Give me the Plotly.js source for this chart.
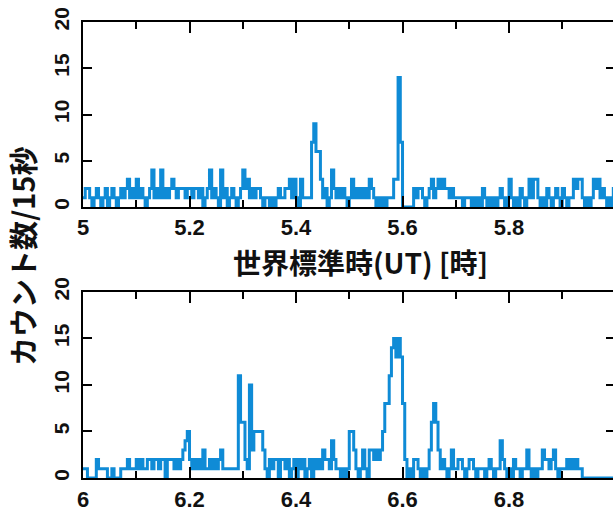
<!DOCTYPE html>
<html>
<head>
<meta charset="utf-8">
<script src="https://cdn.plot.ly/plotly-3.0.1.min.js"></script>
<style>
html, body { margin: 0; padding: 0; overflow: hidden; background: #fff; }
#chart { width: 640px; height: 514px; }
</style>
</head>
<body>
<div id="chart"></div>
<script>
// Counts per 15-second bin (1/240 hour)
const topStartHour = 5.0;
const bottomStartHour = 6.0;
const binHours = 1 / 240;

const topCounts = [
  1,2,2,1,0,1,2,1,0,1,2,0,1,2,1,0,1,2,1,2,
  3,1,2,1,3,1,2,1,0,1,2,4,1,2,1,4,1,2,1,2,
  3,2,1,2,2,2,1,2,2,1,2,2,1,2,0,1,2,4,1,2,
  1,0,4,1,2,0,1,2,1,0,1,2,4,2,3,1,2,1,2,2,
  1,0,1,1,0,1,0,1,2,1,1,2,2,3,1,3,1,0,3,1,
  1,1,1,7,9,6,6,3,1,2,0,1,4,2,1,2,1,2,1,0,
  1,3,1,2,1,2,1,2,1,3,2,1,0,1,0,1,0,1,1,1,
  3,3,14,7,0,0,0,0,0,2,1,2,2,1,0,1,2,3,1,2,
  3,2,3,2,2,1,2,1,1,1,1,0,1,1,1,0,1,0,1,0,
  2,1,0,1,0,1,0,1,2,1,0,1,3,1,0,1,0,2,1,0,
  1,3,1,3,3,1,0,1,0,2,1,0,1,2,1,0,2,1,0,1,
  1,3,2,3,3,1,0,1,0,1,3,2,3,1,2,1,0,1,0,2
];

const bottomCounts = [
  1,1,0,0,0,0,2,1,1,1,1,0,0,1,0,0,0,1,1,1,
  2,1,1,1,2,1,2,1,1,2,2,1,2,2,1,2,2,0,2,2,
  2,1,2,1,2,3,4,5,2,1,2,1,2,1,3,1,1,2,1,2,
  1,2,3,1,1,1,1,1,1,1,11,6,6,2,1,10,3,5,5,5,
  5,3,1,0,2,1,2,2,0,2,2,1,2,0,1,2,0,2,1,2,
  0,1,2,0,2,1,2,1,3,2,2,1,4,2,1,1,0,1,0,1,
  5,5,3,1,0,1,3,1,0,3,3,2,3,2,3,5,8,8,11,14,
  15,13,15,13,8,2,0,1,0,2,2,1,0,1,0,1,3,6,8,6,
  3,1,2,1,0,1,3,1,1,2,2,1,0,1,2,2,1,0,1,1,
  1,0,1,2,1,0,1,1,4,2,1,0,1,0,2,1,1,0,1,1,
  3,1,0,1,0,1,1,3,2,2,1,2,3,1,0,1,1,1,2,1,
  2,1,2,1,1,0,0,0,0,0,0,0,0,0,0,0,0,0,0,0
];

const xTitle = "世界標準時(UT) [時]";
const yTitle = "カウント数/15秒";

function stepSeries(start, counts) {
  const x = counts.map((_, i) => start + i * binHours);
  const y = counts.slice();
  x.push(start + counts.length * binHours);
  y.push(counts[counts.length - 1]);
  return { x, y };
}

const lineColor = "#0f8bd6";
const s1 = stepSeries(topStartHour, topCounts);
const s2 = stepSeries(bottomStartHour, bottomCounts);

const traces = [
  { x: s1.x, y: s1.y, type: "scatter", mode: "lines", line: { shape: "hv", color: lineColor, width: 3 }, xaxis: "x", yaxis: "y", hoverinfo: "skip" },
  { x: s2.x, y: s2.y, type: "scatter", mode: "lines", line: { shape: "hv", color: lineColor, width: 3 }, xaxis: "x2", yaxis: "y2", hoverinfo: "skip" }
];

const tickFont = { family: "Liberation Sans, Arial, sans-serif", size: 22, weight: "bold", color: "#111" };

function xAxis(start, anchor, standoff) {
  return {
    anchor: anchor, domain: [0, 1],
    range: [start, start + 0.999],
    tickmode: "linear", tick0: start, dtick: 0.2,
    ticks: "inside", ticklen: 11, tickwidth: 2, tickcolor: "#000",
    showline: true, linewidth: 2, linecolor: "#000", mirror: "ticks",
    showgrid: false, zeroline: false,
    tickfont: tickFont, ticklabelstandoff: standoff,
    minor: { tick0: start, dtick: 0.1, ticks: "inside", ticklen: 7, tickwidth: 2, tickcolor: "#000", showgrid: false }
  };
}
function yAxis(domain, anchor) {
  return {
    anchor: anchor, domain: domain,
    range: [0, 20], tickmode: "linear", tick0: 0, dtick: 5,
    ticks: "inside", ticklen: 9, tickwidth: 2, tickcolor: "#000",
    showline: true, linewidth: 2, linecolor: "#000", mirror: "ticks",
    showgrid: false, zeroline: false,
    tickangle: -90, tickfont: { family: "Liberation Sans, Arial, sans-serif", size: 21, weight: "bold", color: "#111" },
    ticklabelstandoff: 4
  };
}

const layout = {
  width: 640, height: 514,
  margin: { l: 83, r: 25, t: 22, b: 36 },
  paper_bgcolor: "#fff", plot_bgcolor: "#fff",
  showlegend: false,
  xaxis: xAxis(topStartHour, "y", 0),
  yaxis: yAxis([0.5943, 1], "x"),
  xaxis2: xAxis(bottomStartHour, "y2", 1),
  yaxis2: yAxis([0, 0.4079], "x2"),
  annotations: [
    { text: xTitle, xref: "paper", yref: "paper", x: 0.5207, y: 0.4745, xanchor: "center", yanchor: "middle", showarrow: false,
      font: { family: "Noto Sans CJK JP", size: 28, weight: "bold", color: "#111" } },
    { text: yTitle, xref: "paper", yref: "paper", x: -0.1147, y: 0.4868, xanchor: "center", yanchor: "middle", showarrow: false, textangle: -90,
      font: { family: "Noto Sans CJK JP", size: 29, weight: "bold", color: "#111" } }
  ]
};

Plotly.newPlot("chart", traces, layout, { staticPlot: true, displayModeBar: false });
</script>
</body>
</html>
